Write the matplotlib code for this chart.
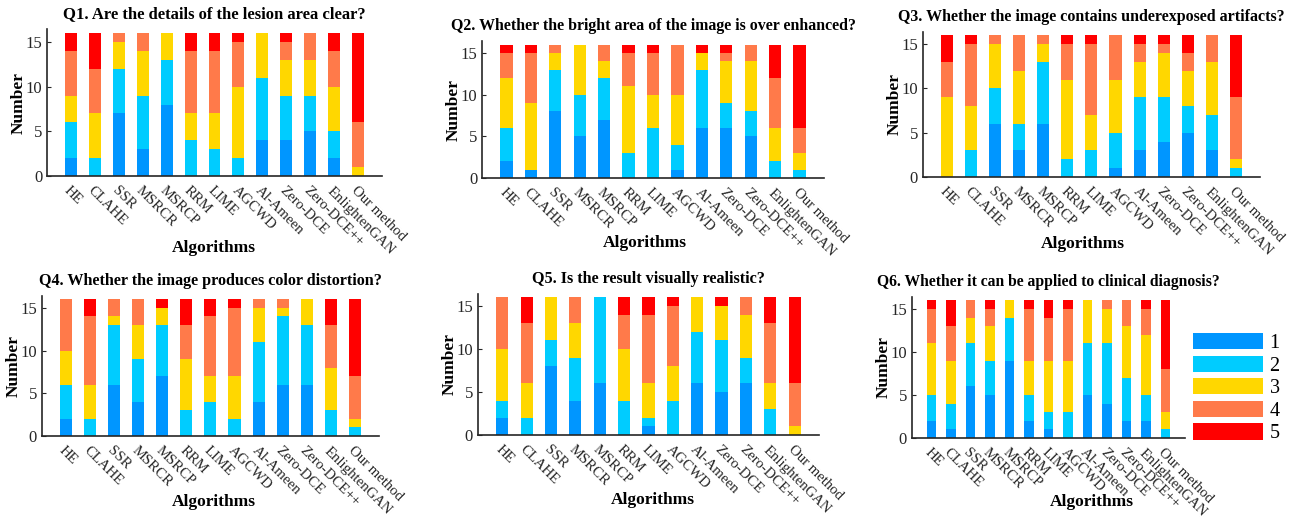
import numpy as np
import matplotlib
matplotlib.use("Agg")
import matplotlib.pyplot as plt

plt.rcParams['font.family'] = ['Liberation Serif', 'DejaVu Serif']

algorithms = ['HE', 'CLAHE', 'SSR', 'MSRCR', 'MSRCP', 'RRM', 'LIME', 'AGCWD',
              'Al-Ameen', 'Zero-DCE', 'Zero-DCE++', 'EnlightenGAN', 'Our method']
scores = ['1', '2', '3', '4', '5']
colors = ['#0096ff', '#00ccff', '#ffd700', '#ff7a4a', '#ff0000']

titles = [
    'Q1. Are the details of the lesion area clear?',
    'Q2. Whether the bright area of the image is over enhanced?',
    'Q3. Whether the image contains underexposed artifacts?',
    'Q4. Whether the image produces color distortion?',
    'Q5. Is the result visually realistic?',
    'Q6. Whether it can be applied to clinical diagnosis?',
]

# counts of score 1..5 per algorithm
q1 = [[2, 4, 3, 5, 2], [0, 2, 5, 5, 4], [7, 5, 3, 1, 0], [3, 6, 5, 2, 0],
      [8, 5, 3, 0, 0], [0, 4, 3, 7, 2], [0, 3, 4, 7, 2], [0, 2, 8, 5, 1],
      [4, 7, 5, 0, 0], [4, 5, 4, 2, 1], [5, 4, 4, 3, 0], [2, 3, 5, 4, 2],
      [0, 0, 1, 5, 10]]
q2 = [[2, 4, 6, 3, 1], [1, 0, 8, 6, 1], [8, 5, 2, 1, 0], [5, 5, 6, 0, 0],
      [7, 5, 2, 2, 0], [0, 3, 8, 4, 1], [0, 6, 4, 5, 1], [1, 3, 6, 6, 0],
      [6, 7, 2, 0, 1], [6, 3, 5, 1, 1], [5, 3, 6, 2, 0], [0, 2, 4, 6, 4],
      [0, 1, 2, 3, 10]]
q3 = [[0, 0, 9, 4, 3], [0, 3, 5, 7, 1], [6, 4, 5, 1, 0], [3, 3, 6, 4, 0],
      [6, 7, 2, 1, 0], [0, 2, 9, 4, 1], [0, 3, 4, 8, 1], [1, 4, 6, 5, 0],
      [3, 6, 4, 2, 1], [4, 5, 5, 1, 1], [5, 3, 4, 2, 2], [3, 4, 6, 3, 0],
      [0, 1, 1, 7, 7]]
q4 = [[2, 4, 4, 6, 0], [0, 2, 4, 8, 2], [6, 7, 1, 2, 0], [4, 5, 4, 3, 0],
      [7, 6, 2, 0, 1], [0, 3, 6, 4, 3], [0, 4, 3, 7, 2], [0, 2, 5, 8, 1],
      [4, 7, 4, 1, 0], [6, 8, 1, 1, 0], [6, 7, 3, 0, 0], [0, 3, 5, 5, 3],
      [0, 1, 1, 5, 9]]
q5 = [[2, 2, 6, 6, 0], [0, 2, 4, 7, 3], [8, 3, 5, 0, 0], [4, 5, 4, 3, 0],
      [6, 10, 0, 0, 0], [0, 4, 6, 4, 2], [1, 1, 4, 8, 2], [0, 4, 4, 7, 1],
      [6, 6, 4, 0, 0], [5, 6, 4, 0, 1], [6, 3, 5, 2, 0], [0, 3, 3, 7, 3],
      [0, 0, 1, 5, 10]]
q6 = [[2, 3, 6, 4, 1], [1, 3, 5, 4, 3], [6, 5, 3, 2, 0], [5, 4, 4, 2, 1],
      [9, 5, 2, 0, 0], [2, 3, 4, 6, 1], [1, 2, 6, 5, 2], [0, 3, 6, 6, 1],
      [5, 6, 5, 0, 0], [4, 7, 4, 1, 0], [2, 5, 6, 3, 0], [2, 3, 7, 3, 1],
      [0, 1, 2, 5, 8]]
questions = [q1, q2, q3, q4, q5, q6]

W, H = 1295, 517
# axes boxes in figure fractions
boxes = [
    [0.0363, 0.6596, 0.2587, 0.2834],
    [0.3722, 0.6557, 0.2641, 0.2644],
    [0.7127, 0.6576, 0.2602, 0.2812],
    [0.0324, 0.1567, 0.2602, 0.2708],
    [0.3691, 0.1586, 0.2633, 0.2727],
    [0.7042, 0.1528, 0.2108, 0.2727],
]
title_sizes = [12, 11.4, 11.5, 11.6, 11.65, 11.25]
# "Algorithms" label centres, in pixels from top-left
xlabel_pos = [(214, 248), (645, 243), (1083, 244), (214, 502), (653, 500), (1092, 502)]

fig = plt.figure(figsize=(W / 100, H / 100), dpi=100)
axcol = '#262626'
x = np.arange(1, len(algorithms) + 1)

for qi, (data, box) in enumerate(zip(questions, boxes)):
    ax = fig.add_axes(box)
    d = np.array(data)
    bottom = np.zeros(len(algorithms))
    for k in range(5):
        ax.bar(x, d[:, k], 0.5, bottom=bottom, color=colors[k],
               edgecolor='none', label=scores[k])
        bottom += d[:, k]

    ax.set_xlim(0, 14)
    ax.set_ylim(0, 16.4)
    ax.set_yticks([0, 5, 10, 15])
    ax.set_xticks(x)
    ax.set_xticklabels(algorithms, rotation=-45, ha='left', va='top',
                       rotation_mode='anchor', fontsize=10.6)
    ax.tick_params(axis='x', length=0, pad=6, colors=axcol)
    ax.tick_params(axis='y', direction='in', length=3, labelsize=12, colors=axcol)
    for s in ['top', 'right']:
        ax.spines[s].set_visible(False)
    for s in ['left', 'bottom']:
        ax.spines[s].set_color(axcol)
        ax.spines[s].set_linewidth(1.2)
    ax.set_title(titles[qi], fontsize=title_sizes[qi], fontweight='bold', pad=8)
    ax.set_ylabel('Number', fontsize=12.5, fontweight='bold', labelpad=-1)
    ax.set_xlabel('Algorithms', fontsize=12.5, fontweight='bold', va='center')
    px, py = xlabel_pos[qi]
    ax.xaxis.set_label_coords(px / W, 1 - py / H, transform=fig.transFigure)

    if qi == 5:
        ax.legend(loc='upper left', bbox_to_anchor=(1193 / W, 1 - 333 / H),
                  bbox_transform=fig.transFigure, frameon=False,
                  fontsize=14.5, handlelength=3.5, handleheight=0.85,
                  labelspacing=0.13, handletextpad=0.3, borderpad=0,
                  borderaxespad=0)

fig.savefig('out.png', dpi=100)
